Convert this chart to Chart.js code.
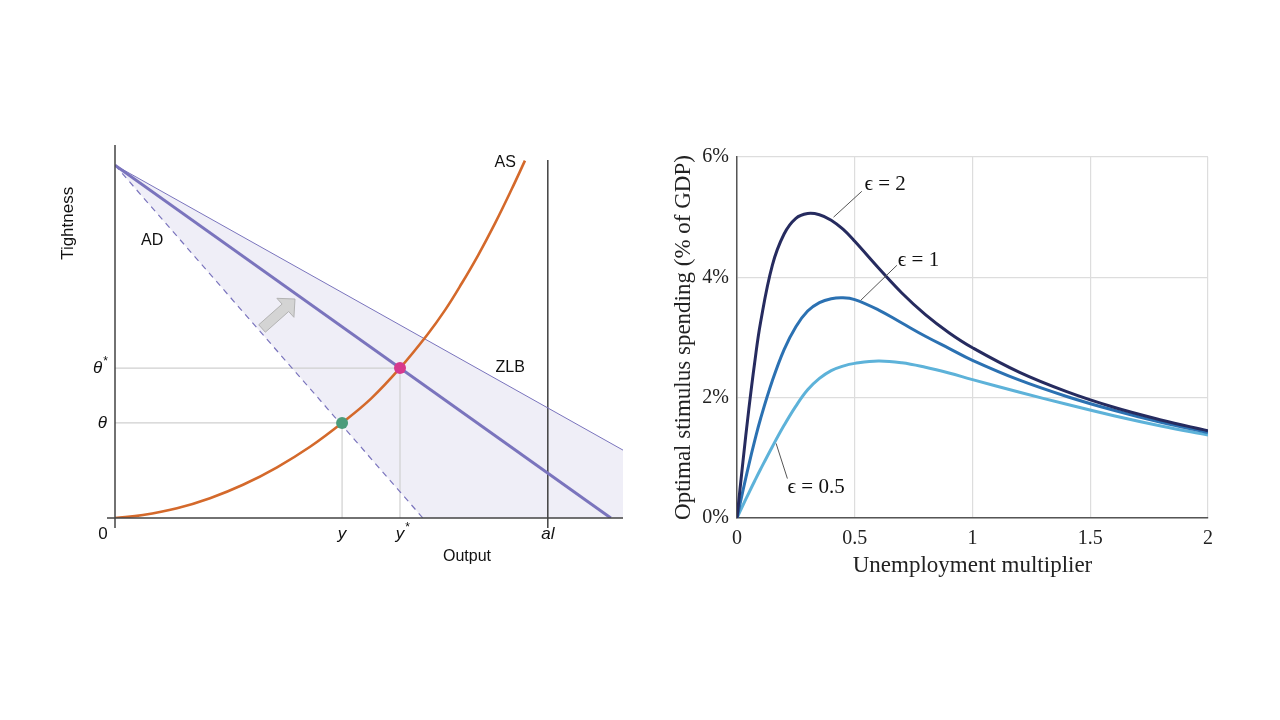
<!DOCTYPE html>
<html>
<head>
<meta charset="utf-8">
<script src="https://cdn.jsdelivr.net/npm/chart.js@4.4.1/dist/chart.umd.min.js"></script>
<style>
    html, body { margin: 0; padding: 0; background: #fff; }
    body { width: 1280px; height: 720px; position: relative; overflow: hidden; }
    .panel { position: absolute; top: 0; width: 640px; height: 720px; }
    #leftPanel { left: 0; }
    #rightPanel { left: 640px; }
</style>
</head>
<body>
<div class="panel" id="leftPanel"><canvas id="canvasAS" width="640" height="720"></canvas></div>
<div class="panel" id="rightPanel"><canvas id="canvasStim" width="640" height="720"></canvas></div>
<script>
// ---- left panel: AD / AS diagram (output on x, tightness on y) ----
var adIntercept = 9.46;          // tightness where the AD lines start
var adNewEnd = 9.76;             // output where the shifted AD meets the axis
var adOldEnd = 6.06;             // output where the old (dashed) AD meets the axis
var zlbEnd = [10, 1.82];         // right end of the ZLB line
var asOutput = [0, 0.55, 1.22, 1.87, 2.52, 3.19, 3.84, 4.47, 5.04, 5.61, 6.14, 6.5, 6.83, 7.15, 7.48, 7.81, 8.07];
var asTightness = [0, 0.08, 0.26, 0.53, 0.89, 1.36, 1.91, 2.55, 3.2, 4.02, 4.9, 5.58, 6.3, 7.05, 7.9, 8.82, 9.58];
var outputTicks = [4.47, 5.61, 8.52];
var outputTickLabels = ['y', 'y*', 'al'];
var tightnessTicks = [2.55, 4.02];
var tightnessTickLabels = ['θ', 'θ*'];
var oldEquilibrium = [4.47, 2.55];
var newEquilibrium = [5.61, 4.02];
var alLine = [8.52, -0.27, 9.6];   // x, bottom, top
var shiftArrowX = [3.543, 3.187, 3.289, 2.829, 2.959, 3.419, 3.522, 3.543];
var shiftArrowY = [5.871, 5.890, 5.735, 5.180, 4.981, 5.536, 5.381, 5.871];

// ---- right panel: optimal stimulus ----
var multiplier = [0, 0.025, 0.05, 0.075, 0.1, 0.15, 0.2, 0.25, 0.3, 0.35, 0.4, 0.45, 0.5, 0.6, 0.7, 0.8, 0.9, 1.0, 1.2, 1.4, 1.6, 1.8, 2.0];
var stimEps2  = [0, 0.93, 1.8, 2.58, 3.25, 4.2, 4.72, 4.98, 5.06, 5.04, 4.95, 4.8, 4.6, 4.16, 3.74, 3.38, 3.08, 2.83, 2.42, 2.1, 1.84, 1.63, 1.45];
var stimEps1  = [0, 0.45, 0.88, 1.28, 1.65, 2.28, 2.8, 3.18, 3.44, 3.58, 3.645, 3.66, 3.63, 3.46, 3.24, 3.02, 2.82, 2.62, 2.29, 2.02, 1.79, 1.59, 1.42];
var stimEps05 = [0, 0.21, 0.415, 0.615, 0.81, 1.185, 1.54, 1.86, 2.13, 2.32, 2.45, 2.525, 2.57, 2.61, 2.58, 2.505, 2.41, 2.3, 2.09, 1.89, 1.7, 1.53, 1.38];
var multiplierTicks = [0, 0.5, 1, 1.5, 2];
var stimTicks = [0, 2, 4, 6];

var sans = '"Liberation Sans", Arial, sans-serif';
var serif = '"Liberation Serif", "Times New Roman", serif';
var purple = '#7a74bd';

function pts(xs, ys) {
    return xs.map(function(x, i) { return { x: x, y: ys[i] }; });
}

// text / axes for the left diagram
var leftDecor = {
    id: 'leftDecor',
    afterDatasetsDraw: function(chart) {
        var ctx = chart.ctx;
        var xs = chart.scales.x, ys = chart.scales.y;
        var x0 = xs.getPixelForValue(0), y0 = ys.getPixelForValue(0);
        ctx.save();
        ctx.strokeStyle = '#444';
        ctx.lineWidth = 1.5;
        ctx.beginPath();
        ctx.moveTo(x0, ys.getPixelForValue(10));
        ctx.lineTo(x0, y0 + 10);
        ctx.moveTo(x0 - 8, y0);
        ctx.lineTo(xs.getPixelForValue(10), y0);
        ctx.stroke();

        ctx.fillStyle = '#111';
        ctx.textBaseline = 'middle';
        // tick labels with raised stars
        function starText(label, x, y, align, italic) {
            var base = label.replace('*', '');
            var star = label.indexOf('*') >= 0;
            ctx.font = (italic ? 'italic ' : '') + '17px ' + sans;
            var w = ctx.measureText(base).width;
            var sw = 0;
            if (star) { ctx.font = '12px ' + sans; sw = ctx.measureText('*').width; }
            var left = align === 'right' ? x - w - sw : x - w / 2;
            ctx.font = (italic ? 'italic ' : '') + '17px ' + sans;
            ctx.textAlign = 'left';
            ctx.fillText(base, left, y);
            if (star) {
                ctx.font = '12px ' + sans;
                ctx.fillText('*', left + w + 1, y - 6);
            }
        }
        outputTicks.forEach(function(v, i) {
            starText(outputTickLabels[i], xs.getPixelForValue(v), y0 + 16, 'center', true);
        });
        tightnessTicks.forEach(function(v, i) {
            starText(tightnessTickLabels[i], x0 - 8, ys.getPixelForValue(v), 'right', true);
        });
        ctx.font = '17px ' + sans;
        ctx.textAlign = 'center';
        ctx.fillText('0', x0 - 12, y0 + 16);

        ctx.font = '16px ' + sans;
        ctx.fillText('AD', xs.getPixelForValue(0.73), ys.getPixelForValue(7.43));
        ctx.fillText('AS', xs.getPixelForValue(7.68), ys.getPixelForValue(9.54));
        ctx.fillText('ZLB', xs.getPixelForValue(7.78), ys.getPixelForValue(4.02));
        ctx.fillText('Output', xs.getPixelForValue(6.93), y0 + 39);

        ctx.font = '17px ' + sans;
        ctx.translate(x0 - 47, ys.getPixelForValue(7.9));
        ctx.rotate(-Math.PI / 2);
        ctx.fillText('Tightness', 0, 0);
        ctx.restore();
    }
};

new Chart(document.getElementById('canvasAS').getContext('2d'), {
    type: 'line',
    data: {
        datasets: [
            { data: pts([oldEquilibrium[0]], [oldEquilibrium[1]]), showLine: false, pointRadius: 6, pointBackgroundColor: '#4b9c7b', pointBorderWidth: 0 },
            { data: pts([newEquilibrium[0]], [newEquilibrium[1]]), showLine: false, pointRadius: 6, pointBackgroundColor: '#d7398d', pointBorderWidth: 0 },
            { data: pts(asOutput, asTightness), borderColor: '#d4692b', borderWidth: 2.6, tension: 0.4 },
            { data: pts([0, adNewEnd], [adIntercept, 0]), borderColor: purple, borderWidth: 3 },
            { data: pts([0, adOldEnd], [adIntercept, 0]), borderColor: purple, borderWidth: 1.2, borderDash: [6, 5] },
            { data: pts([0, zlbEnd[0]], [adIntercept, zlbEnd[1]]), borderColor: purple, borderWidth: 1 },
            { data: pts([alLine[0], alLine[0]], [alLine[1], alLine[2]]), borderColor: '#333', borderWidth: 1.4, clip: false },
            { data: pts(shiftArrowX, shiftArrowY), fill: 'shape', backgroundColor: '#d4d4d4', borderColor: '#b3b3b3', borderWidth: 1 },
            { data: pts([0, newEquilibrium[0], newEquilibrium[0]], [newEquilibrium[1], newEquilibrium[1], 0]), borderColor: '#d0d0d0', borderWidth: 1.2 },
            { data: pts([0, oldEquilibrium[0], oldEquilibrium[0]], [oldEquilibrium[1], oldEquilibrium[1], 0]), borderColor: '#d0d0d0', borderWidth: 1.2 },
            { data: pts([0, adOldEnd, zlbEnd[0], zlbEnd[0], 0], [adIntercept, 0, 0, zlbEnd[1], adIntercept]), fill: 'shape', backgroundColor: '#efeef7', borderWidth: 0 }
        ]
    },
    options: {
        responsive: false,
        animation: false,
        elements: { point: { radius: 0, hoverRadius: 0 } },
        layout: { padding: { left: 115, right: 17, top: 145, bottom: 202 } },
        plugins: { legend: { display: false }, tooltip: { enabled: false } },
        scales: {
            x: { type: 'linear', min: 0, max: 10, display: false },
            y: { type: 'linear', min: 0, max: 10, display: false }
        }
    },
    plugins: [leftDecor]
});

// leader lines and epsilon labels on the right chart
var curveNotes = [
    { text: 'ϵ = 2', from: [0.41, 5.0], to: [0.53, 5.43], at: [0.541, 5.54], align: 'left' },
    { text: 'ϵ = 1', from: [0.526, 3.62], to: [0.679, 4.2], at: [0.683, 4.28], align: 'left' },
    { text: 'ϵ = 0.5', from: [0.166, 1.24], to: [0.214, 0.655], at: [0.336, 0.51], align: 'center' }
];

var noteLabels = {
    id: 'noteLabels',
    afterDatasetsDraw: function(chart) {
        var ctx = chart.ctx;
        var xs = chart.scales.x, ys = chart.scales.y;
        ctx.save();
        ctx.strokeStyle = '#555';
        ctx.lineWidth = 1;
        ctx.fillStyle = '#111';
        ctx.font = '21px ' + serif;
        ctx.textBaseline = 'middle';
        curveNotes.forEach(function(n) {
            ctx.beginPath();
            ctx.moveTo(xs.getPixelForValue(n.from[0]), ys.getPixelForValue(n.from[1]));
            ctx.lineTo(xs.getPixelForValue(n.to[0]), ys.getPixelForValue(n.to[1]));
            ctx.stroke();
            ctx.textAlign = n.align;
            ctx.fillText(n.text, xs.getPixelForValue(n.at[0]), ys.getPixelForValue(n.at[1]));
        });
        ctx.restore();
    }
};

function stimLine(values, color) {
    return {
        data: pts(multiplier, values),
        borderColor: color,
        borderWidth: 3,
        pointRadius: 0,
        tension: 0.4
    };
}

new Chart(document.getElementById('canvasStim').getContext('2d'), {
    type: 'line',
    data: {
        datasets: [
            stimLine(stimEps2, '#262b5f'),
            stimLine(stimEps1, '#2b71b2'),
            stimLine(stimEps05, '#5db2d9')
        ]
    },
    options: {
        responsive: false,
        animation: false,
        elements: { point: { radius: 0, hoverRadius: 0 } },
        layout: { padding: { left: 26, right: 72, top: 157, bottom: 136 } },
        plugins: { legend: { display: false }, tooltip: { enabled: false } },
        scales: {
            x: {
                type: 'linear', min: 0, max: 2,
                afterBuildTicks: function(s) { s.ticks = multiplierTicks.map(function(v) { return { value: v }; }); },
                grid: { color: '#dddddd', lineWidth: 1.2, drawTicks: false },
                border: { color: '#555', width: 1.5 },
                ticks: { padding: 9, color: '#222', font: { family: serif, size: 20 }, maxRotation: 0,
                         callback: function(v) { return String(v); } },
                title: { display: true, text: 'Unemployment multiplier', color: '#222',
                         font: { family: serif, size: 23 }, padding: { top: 0, bottom: 4 } },
                afterFit: function(s) { s.height = 66; }
            },
            y: {
                type: 'linear', min: 0, max: 6,
                afterBuildTicks: function(s) { s.ticks = stimTicks.map(function(v) { return { value: v }; }); },
                grid: { color: '#dddddd', lineWidth: 1.2, drawTicks: false },
                border: { color: '#555', width: 1.5 },
                ticks: { padding: 8, color: '#222', font: { family: serif, size: 20 },
                         callback: function(v) { return v + '%'; } },
                title: { display: true, text: 'Optimal stimulus spending (% of GDP)', color: '#222',
                         font: { family: serif, size: 23 }, padding: { top: 4, bottom: 0 } },
                afterFit: function(s) { s.width = 71; }
            }
        }
    },
    plugins: [noteLabels]
});
</script>
</body>
</html>
